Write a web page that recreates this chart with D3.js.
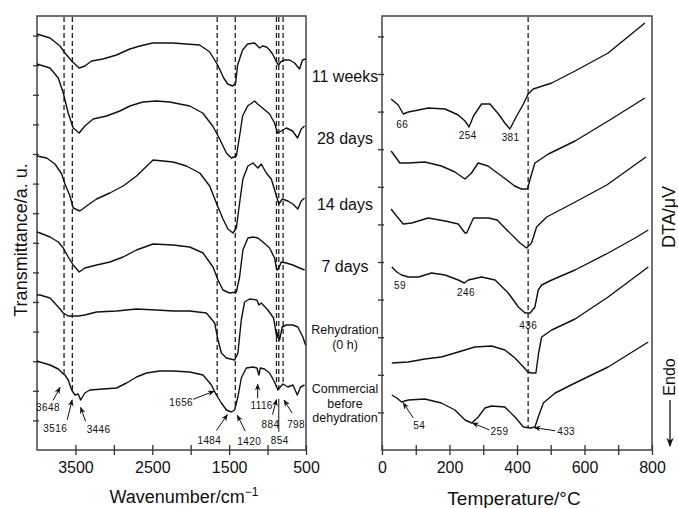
<!DOCTYPE html>
<html>
<head>
<meta charset="utf-8">
<script src="https://cdn.jsdelivr.net/npm/d3@7"></script>
<style>
  body { margin: 0; background: #fff; }
  text { font-family: "Liberation Sans", Arial, sans-serif; fill: #111; }
</style>
</head>
<body>
<svg id="chart" width="678" height="508"></svg>
<script>
// ---- FTIR spectra: [wavenumber cm-1, transmittance a.u.] ----
const ftir11weeks = [[4000,416],[3831,412],[3701,404],[3636,397],[3549,389],[3451,382],[3377,384],[3290,389],[3143,391],[2965,395],[2792,401],[2662,404],[2494,407],[2234,407],[1883,405],[1753,398],[1649,385],[1571,372],[1519,366],[1455,364],[1416,367],[1390,385],[1325,400],[1260,406],[1169,407],[1130,404],[1104,402],[1065,404],[1013,403],[974,400],[935,396],[883,388],[857,385],[831,388],[779,390],[714,390],[649,387],[584,381],[546,390],[506,391]];
const ftir28days = [[4000,386],[3831,382],[3723,372],[3658,357],[3594,337],[3529,322],[3451,317],[3377,324],[3269,331],[3095,334],[2922,339],[2792,344],[2623,348],[2446,349],[2273,348],[2013,344],[1844,337],[1714,324],[1623,311],[1536,297],[1471,292],[1406,294],[1364,314],[1325,334],[1260,344],[1169,349],[1130,346],[1065,342],[974,336],[909,327],[870,317],[822,319],[757,322],[675,319],[610,312],[562,321],[519,324]];
const ftir14days = [[4000,294],[3874,292],[3766,286],[3679,276],[3636,266],[3571,254],[3529,242],[3442,239],[3355,244],[3225,251],[3052,257],[2879,264],[2705,274],[2490,290],[2230,288],[2056,284],[1883,277],[1753,264],[1666,247],[1580,231],[1516,221],[1451,217],[1406,222],[1364,247],[1321,271],[1256,284],[1190,287],[1126,282],[1082,286],[1017,277],[952,271],[896,257],[853,246],[809,251],[736,249],[671,246],[606,241],[562,249],[519,252]];
const ftir7days = [[4000,218],[3961,217],[3831,213],[3723,208],[3658,202],[3594,193],[3529,185],[3451,178],[3377,182],[3225,185],[3052,188],[2879,193],[2705,200],[2490,206],[2230,205],[2013,203],[1840,197],[1710,183],[1645,170],[1580,160],[1494,157],[1406,158],[1364,173],[1321,200],[1256,212],[1190,213],[1126,212],[1061,208],[974,202],[909,192],[879,180],[853,182],[822,188],[757,187],[671,185],[584,182],[519,180]];
const ftirRehydration = [[4000,155],[3961,155],[3831,152],[3723,143],[3658,137],[3594,134],[3464,134],[3377,135],[3225,138],[2965,139],[2705,141],[2446,140],[2230,139],[2013,139],[1796,137],[1688,127],[1645,110],[1601,97],[1536,92],[1429,90],[1386,97],[1342,130],[1299,148],[1234,151],[1139,150],[1113,145],[1082,147],[996,140],[922,132],[879,112],[861,118],[844,110],[809,123],[757,125],[671,125],[606,123],[541,113],[506,105]];
const ftirCommercial = [[4000,89],[3961,88],[3831,85],[3723,81],[3658,76],[3636,75],[3594,70],[3549,60],[3506,55],[3464,56],[3432,50],[3377,57],[3312,60],[3139,61],[2965,62],[2835,67],[2705,73],[2575,77],[2403,79],[2230,79],[2013,78],[1840,75],[1731,65],[1666,55],[1601,47],[1536,40],[1471,38],[1429,40],[1386,53],[1342,72],[1277,82],[1190,83],[1139,82],[1113,75],[1095,82],[1039,81],[974,77],[909,68],[866,60],[835,63],[800,66],[736,63],[671,65],[613,55],[571,63],[519,65]];

// ---- DTA curves: [temperature °C, DTA a.u.] ----
const dta11weeks = [[27,351],[48,345],[63,336],[78,338],[108,340],[137,342],[187,341],[226,335],[246,329],[258,323],[271,334],[295,346],[320,346],[345,336],[364,327],[379,321],[399,334],[419,346],[433,356],[448,361],[503,367],[572,379],[670,397],[779,427]];
const dta28days = [[27,299],[38,294],[53,287],[78,287],[127,288],[176,284],[216,278],[246,271],[265,277],[285,287],[314,284],[354,274],[393,264],[413,261],[431,261],[439,271],[453,287],[493,296],[572,309],[670,329],[779,352]];
const dta14days = [[27,241],[43,234],[63,226],[88,227],[137,232],[187,229],[226,226],[246,217],[251,217],[271,232],[316,232],[341,230],[370,220],[409,207],[428,202],[443,207],[458,223],[488,233],[567,247],[666,265],[782,293]];
const dta7days = [[29,183],[44,178],[58,175],[78,173],[108,173],[147,177],[187,175],[226,170],[244,167],[256,170],[295,173],[335,170],[374,157],[404,143],[424,137],[439,137],[453,143],[463,160],[473,165],[503,170],[572,180],[670,197],[750,212],[789,220]];
const dtaRehydration = [[29,87],[78,88],[127,91],[176,93],[226,98],[275,103],[325,104],[364,100],[394,92],[419,83],[432,78],[444,77],[456,77],[464,97],[473,113],[503,120],[572,131],[670,153],[789,183]];
const dtaCommercial = [[29,55],[44,52],[58,48],[78,50],[127,51],[176,47],[216,40],[246,30],[266,27],[285,33],[305,42],[325,44],[364,43],[394,33],[419,23],[439,22],[453,23],[463,33],[478,47],[513,57],[572,67],[670,83],[789,108]];

const sampleNames = ["11 weeks", "28 days", "14 days", "7 days", "Rehydration\n(0 h)", "Commercial\nbefore\ndehydration"];

// marked bands / peaks
const ftirGuides = [3648, 3540, 1656, 1420, 884, 854, 798];
const ftirPeaks = [3648, 3516, 3446, 1656, 1484, 1420, 1116, 884, 854, 798];
const dtaGuide = 433;
const dtaPeaks11w = [66, 254, 381];
const dtaPeaks7d = [59, 246, 436];
const dtaPeaksComm = [54, 259, 433];

const wnTicks = [3500, 3000, 2500, 2000, 1500, 1000, 500];
const wnTickLabels = [3500, 2500, 1500, 500];
const tTicks = [0, 100, 200, 300, 400, 500, 600, 700, 800];
const tTickLabels = [0, 200, 400, 600, 800];

// ---------------------------------------------------------------
const svg = d3.select("#chart");

const xL = d3.scaleLinear().domain([4000, 500]).range([37, 306]);
const xR = d3.scaleLinear().domain([0, 800]).range([382, 652]);
const y = d3.scaleLinear().domain([0, 434]).range([450, 16]);

function valueAt(series, xv) {
  for (let i = 0; i < series.length - 1; i++) {
    const a = series[i], b = series[i + 1];
    if ((xv - a[0]) * (xv - b[0]) <= 0) {
      const t = (xv - a[0]) / (b[0] - a[0]);
      return a[1] + t * (b[1] - a[1]);
    }
  }
  return series[series.length - 1][1];
}

// arrow marker
svg.append("defs").append("marker")
  .attr("id", "head")
  .attr("viewBox", "0 0 10 10")
  .attr("refX", 9).attr("refY", 5)
  .attr("markerWidth", 7).attr("markerHeight", 7)
  .attr("orient", "auto")
  .append("path")
  .attr("d", "M0,1 L10,5 L0,9 L3,5 Z")
  .attr("fill", "#111");

function panel(x, ticks, labels, tickStep) {
  const g = svg.append("g");
  const [x0, x1] = x.range();
  g.append("rect")
    .attr("x", x0).attr("y", 16)
    .attr("width", x1 - x0).attr("height", 434)
    .attr("fill", "none").attr("stroke", "#444").attr("stroke-width", 1.5);

  const ax = g.append("g")
    .attr("transform", "translate(0,450)")
    .call(d3.axisBottom(x).tickValues(ticks).tickSize(5)
      .tickFormat(d => labels.includes(d) ? d : ""));
  ax.select(".domain").remove();
  ax.selectAll("line").attr("y1", -5).attr("y2", 5).attr("stroke", "#333").attr("stroke-width", 1.3);
  ax.selectAll("text").attr("y", 12).attr("font-size", 16).style("font-family", "Liberation Sans, Arial, sans-serif").attr("fill", "#111");

  const ay = g.append("g")
    .attr("transform", `translate(${x0},0)`)
    .call(d3.axisLeft(y).tickValues(d3.range(tickStep, 430, tickStep)).tickSize(4).tickFormat(""));
  ay.select(".domain").remove();
  ay.selectAll("line").attr("x1", 2).attr("x2", -4).attr("stroke", "#333").attr("stroke-width", 1.3);
  return g;
}

const gL = panel(xL, wnTicks, wnTickLabels, 29.6);
const gR = panel(xR, tTicks, tTickLabels, 37.6);

// dashed guide lines, dropped to the commercial curve
gL.selectAll(".guide").data(ftirGuides).enter().append("line")
  .attr("x1", d => xL(d)).attr("x2", d => xL(d))
  .attr("y1", 17).attr("y2", d => y(valueAt(ftirCommercial, d)))
  .attr("stroke", "#222").attr("stroke-width", 1.3).attr("stroke-dasharray", "5,3");

gR.append("line")
  .attr("x1", xR(dtaGuide)).attr("x2", xR(dtaGuide))
  .attr("y1", 17).attr("y2", y(valueAt(dtaCommercial, dtaGuide)))
  .attr("stroke", "#222").attr("stroke-width", 1.3).attr("stroke-dasharray", "5,3");

// curves
const ftirSeries = [ftir11weeks, ftir28days, ftir14days, ftir7days, ftirRehydration, ftirCommercial];
const dtaSeries = [dta11weeks, dta28days, dta14days, dta7days, dtaRehydration, dtaCommercial];

const lineL = d3.line().x(d => xL(d[0])).y(d => y(d[1]));
const lineR = d3.line().x(d => xR(d[0])).y(d => y(d[1]));

gL.selectAll(".ftir").data(ftirSeries).enter().append("path")
  .attr("d", lineL).attr("fill", "none").attr("stroke", "#111").attr("stroke-width", 1.4)
  .attr("stroke-linejoin", "round");
gR.selectAll(".dta").data(dtaSeries).enter().append("path")
  .attr("d", lineR).attr("fill", "none").attr("stroke", "#111").attr("stroke-width", 1.4)
  .attr("stroke-linejoin", "round");

// sample names between the panels
const nameY = [76, 138, 204, 266, 330, 389];
sampleNames.forEach((name, i) => {
  const lines = name.split("\n");
  const small = lines.length > 1;
  const t = svg.append("text")
    .attr("x", 345).attr("y", nameY[i])
    .attr("text-anchor", "middle")
    .attr("font-size", small ? 12.5 : 16);
  lines.forEach((s, j) => {
    t.append("tspan").attr("x", 345).attr("dy", j === 0 ? "0.35em" : (small ? 14.5 : 18)).text(s);
  });
});

// peak annotations on commercial FTIR: head offset, tail offset, text offset (px)
const ftirAnno = [
  { h: [-4, 13], t: [-7, 13], l: [-12, 20], arrow: true },
  { h: [-2, 6], t: [-5, 20], l: [-17, 29], arrow: true },
  { h: [1, 10], t: [5, 14], l: [18, 22], arrow: true },
  { h: [-3, -5], t: [-21, 8], l: [-33, 11], arrow: true },
  { h: [-3, 3], t: [-11, 16], l: [-18, 26], arrow: true },
  { h: [2, 8], t: [8, 16], l: [12, 26], arrow: true },
  { h: [-1, 10], t: [0, 14], l: [4, 21], arrow: true },
  { h: [0, 13], t: [-4, 15], l: [-6, 25], arrow: true },
  { h: [0, 10], t: [0, 33], l: [1, 42], arrow: false },
  { h: [1, 16], t: [8, 13], l: [12, 24], arrow: true }
];

function annotate(g, xs, series, peaks, layout) {
  peaks.forEach((p, i) => {
    const a = layout[i];
    const px = xs(p) + a.h[0];
    const py = y(valueAt(series, p)) + a.h[1];
    if (a.t) {
      g.append("line")
        .attr("x1", px + a.t[0]).attr("y1", py + a.t[1])
        .attr("x2", px).attr("y2", py)
        .attr("stroke", "#111").attr("stroke-width", 1)
        .attr("marker-end", a.arrow ? "url(#head)" : null);
    }
    g.append("text")
      .attr("x", px + a.l[0]).attr("y", py + a.l[1])
      .attr("dy", "0.35em").attr("text-anchor", "middle")
      .attr("font-size", 10).attr("letter-spacing", 0.4)
      .text(p);
  });
}

annotate(gL, xL, ftirCommercial, ftirPeaks, ftirAnno);

annotate(gR, xR, dta11weeks, dtaPeaks11w, [
  { h: [0, 0], l: [-2, 11] }, { h: [0, 0], l: [0, 10] }, { h: [0, 0], l: [0, 10] }
]);
annotate(gR, xR, dta7days, dtaPeaks7d, [
  { h: [0, 0], l: [-2, 10] }, { h: [0, 0], l: [1, 10] }, { h: [0, 0], l: [-1, 12] }
]);
annotate(gR, xR, dtaCommercial, dtaPeaksComm, [
  { h: [3, 2], t: [10, 15], l: [16, 23], arrow: true },
  { h: [3, 1], t: [17, 7], l: [27, 9], arrow: true },
  { h: [6, 0], t: [21, 3], l: [32, 4], arrow: true }
]);

// axis titles
const xt = svg.append("text").attr("x", 184).attr("y", 503)
  .attr("text-anchor", "middle").attr("font-size", 18).text("Wavenumber/cm");
xt.append("tspan").attr("font-size", 12).attr("dy", -7).text("\u22121");

svg.append("text").attr("x", 514).attr("y", 505)
  .attr("text-anchor", "middle").attr("font-size", 19).text("Temperature/\u00B0C");

svg.append("text").attr("transform", "translate(27,240) rotate(-90)")
  .attr("text-anchor", "middle").attr("font-size", 18).text("Transmittance/a. u.");

svg.append("text").attr("transform", "translate(675,217) rotate(-90)")
  .attr("text-anchor", "middle").attr("font-size", 18).text("DTA/\u03BCV");

svg.append("text").attr("transform", "translate(675,377) rotate(-90)")
  .attr("text-anchor", "middle").attr("font-size", 16).text("Endo");

svg.append("line")
  .attr("x1", 670).attr("y1", 400).attr("x2", 670).attr("y2", 446)
  .attr("stroke", "#111").attr("stroke-width", 1.3)
  .attr("marker-end", "url(#head)");
</script>
</body>
</html>
